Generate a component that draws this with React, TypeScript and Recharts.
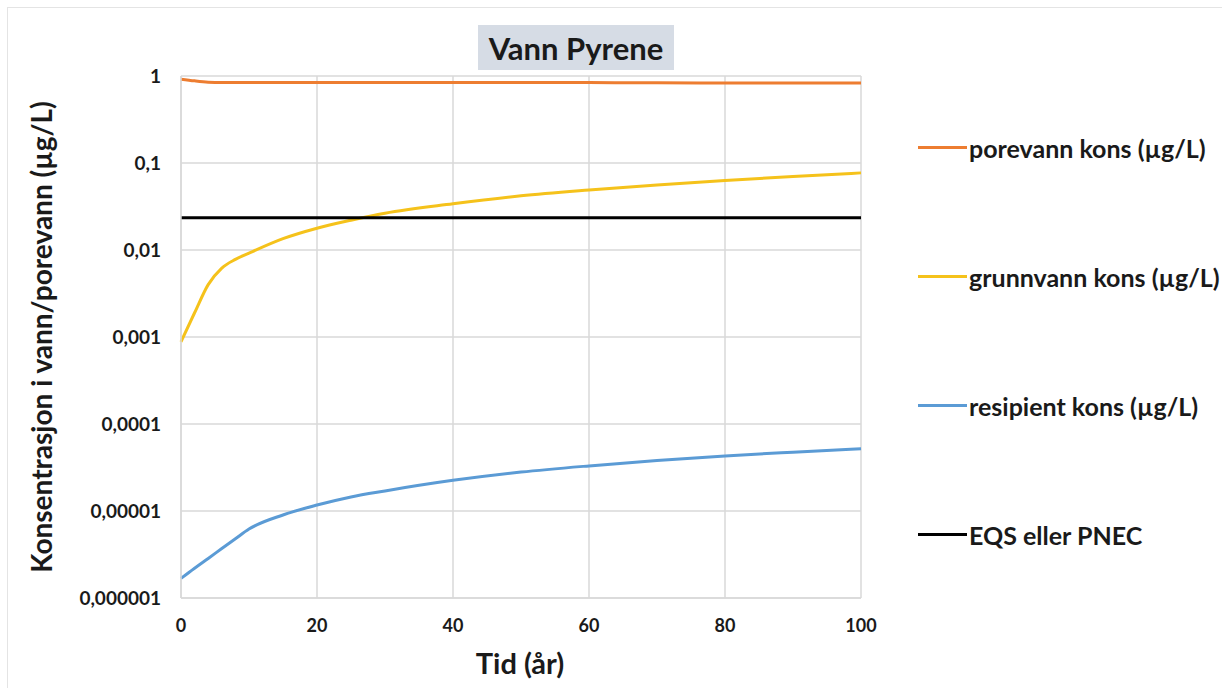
import { LineChart, Line, XAxis, YAxis, CartesianGrid } from "recharts";

// Time axis (years) and concentrations (µg/L)
const years = [0, 2, 4, 6, 8, 10, 15, 20, 25, 30, 40, 50, 60, 70, 80, 90, 100];
const porevann = [0.92, 0.88, 0.85, 0.84, 0.84, 0.84, 0.84, 0.84, 0.84, 0.84, 0.84, 0.84, 0.84, 0.835, 0.83, 0.83, 0.83];
const grunnvann = [0.00088, 0.0019, 0.004, 0.0062, 0.0078, 0.0092, 0.0135, 0.0178, 0.022, 0.0265, 0.034, 0.042, 0.049, 0.056, 0.063, 0.07, 0.077];
const resipient = [1.68e-6, 2.2e-6, 2.85e-6, 3.7e-6, 4.8e-6, 6.2e-6, 9.0e-6, 1.17e-5, 1.45e-5, 1.7e-5, 2.25e-5, 2.8e-5, 3.3e-5, 3.8e-5, 4.3e-5, 4.75e-5, 5.2e-5];
const eqs = [0.0235, 0.0235, 0.0235, 0.0235, 0.0235, 0.0235, 0.0235, 0.0235, 0.0235, 0.0235, 0.0235, 0.0235, 0.0235, 0.0235, 0.0235, 0.0235, 0.0235];

const xTicks = [0, 20, 40, 60, 80, 100];
const yTicks = [0.000001, 0.00001, 0.0001, 0.001, 0.01, 0.1, 1];
const yTickLabels = ["0,000001", "0,00001", "0,0001", "0,001", "0,01", "0,1", "1"];

const seriesKeys = ["porevann", "grunnvann", "resipient", "eqs"];
const seriesNames = [
  "porevann kons (µg/L)",
  "grunnvann kons (µg/L)",
  "resipient kons (µg/L)",
  "EQS eller PNEC",
];
const seriesColors = ["#ED7D31", "#F5C21B", "#5B9BD5", "#000000"];

const data = years.map((t, i) => ({
  t,
  porevann: porevann[i],
  grunnvann: grunnvann[i],
  resipient: resipient[i],
  eqs: eqs[i],
}));

const FONT = "Lato, 'Open Sans', sans-serif";
const TEXT = "#1a1a1a";
const GRID = "#d9d9d9";

function formatY(v: number) {
  const i = yTicks.findIndex((t) => Math.abs(Math.log10(t) - Math.log10(v)) < 1e-6);
  return i >= 0 ? yTickLabels[i] : String(v);
}

// Legend sits outside the plot (Excel-style, right side, evenly spread)
function SideLegend() {
  return (
    <div style={{ position: "absolute", left: 918, top: 83, fontFamily: FONT }}>
      {seriesKeys.map((key, i) => (
        <div key={key} style={{ display: "flex", alignItems: "center", height: 129 }}>
          <span
            style={{
              display: "inline-block",
              width: 49,
              height: 3,
              background: seriesColors[i],
              marginRight: 2,
            }}
          />
          <span style={{ fontSize: 25, fontWeight: 700, color: TEXT, whiteSpace: "nowrap" }}>
            {seriesNames[i]}
          </span>
        </div>
      ))}
    </div>
  );
}

export default function App() {
  return (
    <div style={{ position: "absolute", left: 0, top: 0, width: 1230, height: 691, background: "#fff" }}>
      <div
        style={{
          position: "absolute",
          left: 7,
          top: 7,
          width: 1214,
          height: 680,
          borderLeft: "1px solid #e4e4e4",
          borderTop: "1px solid #e4e4e4",
        }}
      />
      <div
        style={{
          position: "absolute",
          left: 478,
          top: 25,
          width: 196,
          height: 45,
          background: "#d6dce5",
          fontFamily: FONT,
          fontWeight: 700,
          fontSize: 31,
          color: TEXT,
          display: "flex",
          alignItems: "center",
          justifyContent: "center",
        }}
      >
        Vann Pyrene
      </div>
      <div
        style={{
          position: "absolute",
          left: 41,
          top: 337,
          transform: "translate(-50%, -50%) rotate(-90deg)",
          whiteSpace: "nowrap",
          fontFamily: FONT,
          fontWeight: 700,
          fontSize: 28,
          color: TEXT,
        }}
      >
        Konsentrasjon i vann/porevann (µg/L)
      </div>
      <div
        style={{
          position: "absolute",
          left: 520,
          top: 662,
          transform: "translate(-50%, -50%)",
          whiteSpace: "nowrap",
          fontFamily: FONT,
          fontWeight: 700,
          fontSize: 29,
          color: TEXT,
        }}
      >
        Tid (år)
      </div>
      <div style={{ position: "absolute", left: 0, top: 0 }}>
        <LineChart
          width={1230}
          height={691}
          data={data}
          margin={{ top: 76, right: 369, bottom: 53, left: 81 }}
          style={{ fontFamily: FONT }}
        >
          <CartesianGrid stroke={GRID} strokeWidth={1.5} />
          <XAxis
            dataKey="t"
            type="number"
            domain={[0, 100]}
            ticks={xTicks}
            height={40}
            tickLine={false}
            tickMargin={15}
            axisLine={{ stroke: GRID, strokeWidth: 1.5 }}
            tick={{ fill: TEXT, fontSize: 18, fontWeight: 700 }}
          />
          <YAxis
            scale="log"
            domain={[0.000001, 1]}
            ticks={yTicks}
            allowDataOverflow
            width={100}
            tickLine={false}
            tickMargin={14}
            axisLine={{ stroke: GRID, strokeWidth: 1.5 }}
            tickFormatter={formatY}
            tick={{ fill: TEXT, fontSize: 19, fontWeight: 700 }}
          />
          {seriesKeys.map((key, i) => (
            <Line
              key={key}
              name={seriesNames[i]}
              dataKey={key}
              stroke={seriesColors[i]}
              strokeWidth={3}
              dot={false}
              type={key === "eqs" ? "linear" : "monotone"}
              isAnimationActive={false}
            />
          ))}
        </LineChart>
      </div>
      <SideLegend />
    </div>
  );
}
